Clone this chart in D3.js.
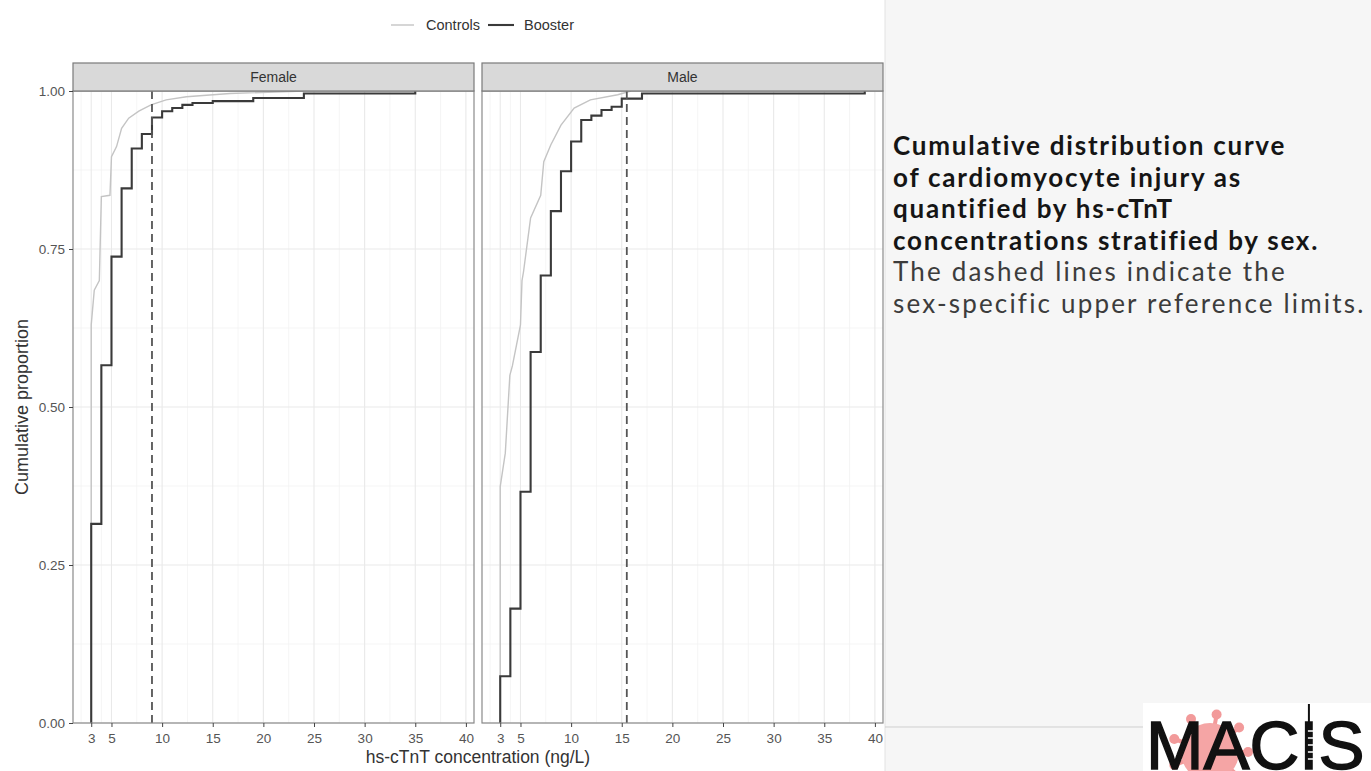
<!DOCTYPE html>
<html><head><meta charset="utf-8">
<script src="https://cdn.jsdelivr.net/npm/d3@7"></script>
<style>
html,body{margin:0;padding:0;background:#f6f6f6;}
svg{display:block;}
</style></head>
<body>
<svg id="c" width="1371" height="771"></svg>
<script>
// ---------------- data ----------------
const panelNames = ["Female", "Male"];
const seriesNames = ["Controls", "Booster"];
const xTicks = [3, 5, 10, 15, 20, 25, 30, 35, 40];
const yTicks = [0, 0.25, 0.5, 0.75, 1];
const refLimits = [9, 15.5];           // sex-specific upper reference limits (ng/L)
const xTitle = "hs-cTnT concentration (ng/L)";
const yTitle = "Cumulative proportion";

// Female – Booster (ECDF steps)
const femaleBoosterX = [3, 4, 5, 6, 7, 8, 9, 10, 11, 12, 13, 15, 19, 24, 35];
const femaleBoosterP = [0.315, 0.566, 0.738, 0.846, 0.909, 0.932, 0.958, 0.968, 0.973, 0.978, 0.981, 0.984, 0.989, 0.996, 1.0];
// Male – Booster
const maleBoosterX = [3, 4, 5, 6, 7, 8, 9, 10, 11, 12, 13, 14, 15, 17, 39];
const maleBoosterP = [0.074, 0.181, 0.366, 0.587, 0.708, 0.810, 0.873, 0.920, 0.954, 0.961, 0.970, 0.975, 0.988, 0.996, 1.0];
// Female – Controls
const femaleControlsX = [3, 3, 3.3, 3.8, 4, 4.85, 5, 5.5, 6, 6.7, 7.7, 8.9, 10.4, 12.4, 16.7, 24];
const femaleControlsP = [0, 0.63, 0.685, 0.70, 0.833, 0.835, 0.896, 0.912, 0.941, 0.957, 0.968, 0.978, 0.986, 0.991, 0.996, 1.0];
// Male – Controls
const maleControlsX = [3, 3, 3.5, 3.95, 4.2, 5.0, 5.15, 5.3, 6.0, 7.0, 7.3, 8.0, 9.0, 10.3, 11.9, 14.6, 15.9];
const maleControlsP = [0, 0.374, 0.427, 0.55, 0.565, 0.63, 0.70, 0.714, 0.799, 0.835, 0.888, 0.915, 0.946, 0.973, 0.986, 0.994, 1.0];

const captionBold = ["Cumulative distribution curve", "of cardiomyocyte injury as", "quantified by hs-cTnT", "concentrations stratified by sex."];
const captionNormal = ["The dashed lines indicate the", "sex-specific upper reference limits."];
const logoText = "MACIS";

// ---------------- layout ----------------
const svg = d3.select("#c");
const W = 1371, H = 771;
const chartW = 885;
const panelTop = 91, panelBottom = 723, stripTop = 63;
const panelX = [[73, 474], [482, 883]];
const FONT = "'Liberation Sans', Arial, sans-serif";

svg.append("rect").attr("x", 0).attr("y", 0).attr("width", W).attr("height", H).attr("fill", "#f6f6f6");
svg.append("rect").attr("x", 0).attr("y", 0).attr("width", chartW).attr("height", H).attr("fill", "#ffffff");
svg.append("line").attr("x1", chartW).attr("x2", chartW).attr("y1", 0).attr("y2", H).attr("stroke", "#e2e2e2");

const zip = (xs, ps) => xs.map((x, i) => ({x, p: ps[i]}));
const panels = [
  {name: panelNames[0], controls: zip(femaleControlsX, femaleControlsP), booster: zip(femaleBoosterX, femaleBoosterP), ref: refLimits[0]},
  {name: panelNames[1], controls: zip(maleControlsX, maleControlsP), booster: zip(maleBoosterX, maleBoosterP), ref: refLimits[1]}
];

const allX = [].concat(femaleBoosterX, maleBoosterX, femaleControlsX, maleControlsX);
const ext = d3.extent(allX);
const pad = (ext[1] - ext[0]) * 0.05;
const xDomain = [ext[0] - pad, ext[1] + pad];
const y = d3.scaleLinear().domain([0, 1]).range([panelBottom, panelTop]);

// minor breaks (ggplot-style midpoints)
const xMinor = [];
const extTicks = [xTicks[0] - (xTicks[1] - xTicks[0])].concat(xTicks);
for (let i = 0; i < extTicks.length - 1; i++) xMinor.push((extTicks[i] + extTicks[i + 1]) / 2);
const yMinor = [];
for (let i = 0; i < yTicks.length - 1; i++) yMinor.push((yTicks[i] + yTicks[i + 1]) / 2);

panels.forEach((pd, i) => {
  const [x0, x1] = panelX[i];
  const x = d3.scaleLinear().domain(xDomain).range([x0, x1]);
  const g = svg.append("g");
  const inX = v => v >= xDomain[0] && v <= xDomain[1];

  // grid
  g.selectAll(".xmin").data(xMinor.filter(inX)).join("line")
    .attr("x1", d => x(d)).attr("x2", d => x(d)).attr("y1", panelTop).attr("y2", panelBottom)
    .attr("stroke", "#f3f3f3").attr("stroke-width", 0.8);
  g.selectAll(".ymin").data(yMinor).join("line")
    .attr("x1", x0).attr("x2", x1).attr("y1", d => y(d)).attr("y2", d => y(d))
    .attr("stroke", "#f3f3f3").attr("stroke-width", 0.8);
  g.selectAll(".xmaj").data(xTicks).join("line")
    .attr("x1", d => x(d)).attr("x2", d => x(d)).attr("y1", panelTop).attr("y2", panelBottom)
    .attr("stroke", "#e9e9e9").attr("stroke-width", 1.1);
  g.selectAll(".ymaj").data(yTicks).join("line")
    .attr("x1", x0).attr("x2", x1).attr("y1", d => y(d)).attr("y2", d => y(d))
    .attr("stroke", "#e9e9e9").attr("stroke-width", 1.1);

  // controls (light) - many small steps, appear smooth
  const lineC = d3.line().x(d => x(d.x)).y(d => y(d.p)).curve(d3.curveLinear);
  g.append("path").datum(pd.controls).attr("d", lineC)
    .attr("fill", "none").attr("stroke", "#c4c4c4").attr("stroke-width", 1.4);

  // booster (dark) - ECDF step
  const lineB = d3.line().x(d => x(d.x)).y(d => y(d.p)).curve(d3.curveStepAfter);
  const bpts = [{x: pd.booster[0].x, p: 0}].concat(pd.booster);
  g.append("path").datum(bpts).attr("d", lineB)
    .attr("fill", "none").attr("stroke", "#3a3a3a").attr("stroke-width", 2.1);

  // reference limit
  g.append("line").attr("x1", x(pd.ref)).attr("x2", x(pd.ref)).attr("y1", panelTop).attr("y2", panelBottom)
    .attr("stroke", "#555").attr("stroke-width", 1.8).attr("stroke-dasharray", "8,5");

  // panel border
  g.append("rect").attr("x", x0).attr("y", panelTop).attr("width", x1 - x0).attr("height", panelBottom - panelTop)
    .attr("fill", "none").attr("stroke", "#8a8a8a").attr("stroke-width", 1.2);

  // strip
  g.append("rect").attr("x", x0).attr("y", stripTop).attr("width", x1 - x0).attr("height", panelTop - stripTop)
    .attr("fill", "#d9d9d9").attr("stroke", "#7a7a7a").attr("stroke-width", 1.2);
  g.append("text").attr("x", (x0 + x1) / 2).attr("y", (stripTop + panelTop) / 2 + 5)
    .attr("text-anchor", "middle").attr("font-family", FONT).attr("font-size", 14)
    .attr("fill", "#333").text(pd.name);

  // x axis
  const xa = g.append("g").attr("transform", `translate(0,${panelBottom})`)
    .call(d3.axisBottom(x).tickValues(xTicks).tickSize(4).tickPadding(6).tickFormat(d3.format("d")));
  xa.select(".domain").remove();
  xa.selectAll(".tick line").attr("stroke", "#444");
  xa.selectAll(".tick text").attr("font-family", FONT).attr("font-size", 13.5).attr("fill", "#555");

  if (i === 0) {
    const ya = g.append("g").attr("transform", `translate(${x0},0)`)
      .call(d3.axisLeft(y).tickValues(yTicks).tickSize(4).tickPadding(4).tickFormat(d3.format(".2f")));
    ya.select(".domain").remove();
    ya.selectAll(".tick line").attr("stroke", "#444");
    ya.selectAll(".tick text").attr("font-family", FONT).attr("font-size", 13.5).attr("fill", "#555");
  }
});

// axis titles
svg.append("text").attr("x", (panelX[0][0] + panelX[1][1]) / 2).attr("y", 763)
  .attr("text-anchor", "middle").attr("font-family", FONT).attr("font-size", 17.5).attr("fill", "#333").text(xTitle);
svg.append("text").attr("transform", `translate(28,${(panelTop + panelBottom) / 2}) rotate(-90)`)
  .attr("text-anchor", "middle").attr("font-family", FONT).attr("font-size", 18).attr("fill", "#333").text(yTitle);

// legend
const legendItems = [
  {name: seriesNames[0], x1: 391, x2: 414, tx: 426, color: "#c4c4c4", w: 1.4},
  {name: seriesNames[1], x1: 488, x2: 514, tx: 524, color: "#3a3a3a", w: 2.1}
];
const lg = svg.append("g");
legendItems.forEach(it => {
  lg.append("line").attr("x1", it.x1).attr("x2", it.x2).attr("y1", 25).attr("y2", 25)
    .attr("stroke", it.color).attr("stroke-width", it.w);
  lg.append("text").attr("x", it.tx).attr("y", 30).attr("font-family", FONT).attr("font-size", 14.5)
    .attr("fill", "#333").text(it.name);
});

// caption on the right
const CAP_FONT = "Lato, 'Open Sans', sans-serif";
const capX = 893, capSize = 26;
const lineGap = 31.5, firstBase = 155;
const cap = svg.append("g");
function measure(t, wt) {
  const p = cap.append("text").attr("font-family", CAP_FONT).attr("font-weight", wt).attr("font-size", capSize).text(t);
  const w = p.node().getComputedTextLength(); p.remove(); return w;
}
const lsBold = Math.max(0, (394 - measure(captionBold[0], 700)) / captionBold[0].length);
const lastNormal = captionNormal[captionNormal.length - 1];
const lsNorm = Math.max(0, (472 - measure(lastNormal, 400)) / lastNormal.length);
captionBold.forEach((t, i) => {
  cap.append("text").attr("x", capX).attr("y", firstBase + i * lineGap)
    .attr("font-family", CAP_FONT).attr("font-weight", 700).attr("font-size", capSize)
    .attr("letter-spacing", lsBold).attr("fill", "#151515").text(t);
});
captionNormal.forEach((t, i) => {
  cap.append("text").attr("x", capX).attr("y", firstBase + (captionBold.length + i) * lineGap)
    .attr("font-family", CAP_FONT).attr("font-weight", 400).attr("font-size", capSize)
    .attr("letter-spacing", lsNorm).attr("fill", "#3c3c3c").text(t);
});

// logo (bottom right)
svg.append("line").attr("x1", chartW).attr("x2", 1143).attr("y1", 727).attr("y2", 727).attr("stroke", "#cfcfcf");
svg.append("rect").attr("x", 1143).attr("y", 703).attr("width", W - 1143).attr("height", H - 703).attr("fill", "#ffffff");
const vg = svg.append("g").attr("transform", "translate(1210,752)");
d3.range(9).forEach(k => {
  const a = k / 9 * 2 * Math.PI;
  vg.append("line").attr("x1", 0).attr("y1", 0).attr("x2", Math.cos(a) * 38).attr("y2", Math.sin(a) * 38)
    .attr("stroke", "#f29a9a").attr("stroke-width", 4);
  vg.append("circle").attr("cx", Math.cos(a) * 38).attr("cy", Math.sin(a) * 38).attr("r", 5).attr("fill", "#f29a9a");
});
vg.append("circle").attr("r", 29).attr("fill", "#f5a5a5");
const logo = svg.append("text").attr("x", 1146).attr("y", 769).attr("font-family", FONT)
  .attr("font-size", 69).attr("fill", "#111").attr("stroke", "#111").attr("stroke-width", 1.5).text(logoText);
const ib = logo.node().getExtentOfChar(3);
const ic = ib.x + ib.width / 2;
svg.append("line").attr("x1", ic).attr("x2", ic).attr("y1", 704).attr("y2", 722).attr("stroke", "#111").attr("stroke-width", 2);
d3.range(5).forEach(k => {
  svg.append("line").attr("x1", ic - 1).attr("x2", ic + 5).attr("y1", 731 + k * 7).attr("y2", 731 + k * 7)
    .attr("stroke", "#fff").attr("stroke-width", 1.5);
});
</script>
</body></html>
